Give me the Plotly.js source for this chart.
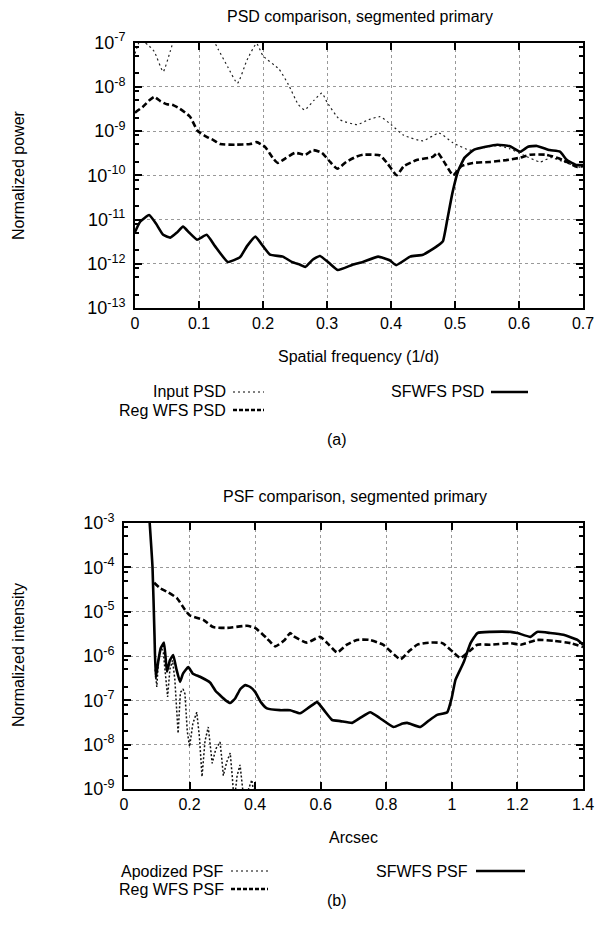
<!DOCTYPE html>
<html>
<head>
<meta charset="utf-8">
<script src="https://cdn.plot.ly/plotly-3.0.1.min.js"></script>
<style>
html,body{margin:0;padding:0;background:#fff;}
#chart{width:595px;height:939px;}
</style>
</head>
<body>
<div id="chart"></div>
<script>
// ---------- Panel (a): PSD comparison ----------
const psdInputX = [0,0.008,0.02,0.03,0.044,0.055,0.065,0.09,0.12,0.13,0.145,0.16,0.175,0.19,0.2,0.225,0.24,0.255,0.265,0.28,0.292,0.3,0.32,0.347,0.365,0.383,0.4,0.42,0.45,0.475,0.497,0.523,0.545,0.566,0.585,0.606,0.633,0.65,0.67,0.69,0.7];
const psdInputY = [5.6e-8,1.1e-7,8.9e-8,6.3e-8,2.2e-8,6.3e-8,1.6e-7,2e-7,1.26e-7,7e-8,2.8e-8,1.2e-8,4e-8,9.5e-8,5e-8,2.5e-8,1.1e-8,4e-9,3e-9,5e-9,7.2e-9,4.5e-9,1.8e-9,1.4e-9,1.8e-9,2.1e-9,1.4e-9,8e-10,6e-10,9e-10,5.4e-10,3.7e-10,4.2e-10,4.7e-10,4e-10,2.9e-10,2e-10,2.5e-10,2e-10,1.6e-10,1.45e-10];

const psdRegX = [0,0.012,0.023,0.03,0.04,0.05,0.058,0.07,0.086,0.098,0.112,0.122,0.133,0.156,0.18,0.19,0.203,0.215,0.223,0.235,0.25,0.266,0.278,0.292,0.305,0.316,0.33,0.345,0.356,0.383,0.395,0.409,0.42,0.44,0.465,0.473,0.485,0.497,0.51,0.528,0.555,0.58,0.602,0.617,0.643,0.669,0.69,0.7];
const psdRegY = [2.6e-9,3.5e-9,5e-9,5.9e-9,4.7e-9,4e-9,3.9e-9,3.2e-9,2.1e-9,1e-9,7.4e-10,6.3e-10,5.1e-10,4.9e-10,5.1e-10,5.6e-10,4.4e-10,2.5e-10,1.9e-10,2.4e-10,3.2e-10,2.9e-10,3.7e-10,3.2e-10,2e-10,1.4e-10,2e-10,2.6e-10,2.9e-10,2.8e-10,1.8e-10,1e-10,1.6e-10,2.2e-10,2.6e-10,3.2e-10,1.8e-10,1e-10,1.6e-10,1.9e-10,2e-10,2.2e-10,2.5e-10,2.9e-10,2.9e-10,2.2e-10,1.55e-10,1.6e-10];

const psdSfX = [0,0.008,0.022,0.033,0.044,0.055,0.065,0.075,0.085,0.097,0.112,0.125,0.145,0.164,0.175,0.188,0.2,0.211,0.231,0.245,0.258,0.266,0.278,0.289,0.303,0.317,0.34,0.356,0.38,0.398,0.408,0.43,0.45,0.472,0.481,0.488,0.496,0.505,0.515,0.53,0.566,0.586,0.602,0.614,0.628,0.648,0.664,0.675,0.69,0.7];
const psdSfY = [5.2e-12,8.9e-12,1.26e-11,8e-12,4.5e-12,3.9e-12,5e-12,6.9e-12,5e-12,3.5e-12,4.5e-12,2.5e-12,1.1e-12,1.4e-12,2.5e-12,4.1e-12,2.5e-12,1.6e-12,1.45e-12,1.1e-12,9.5e-13,8.5e-13,1.25e-12,1.5e-12,1.05e-12,7.2e-13,9.5e-13,1.1e-12,1.45e-12,1.2e-12,9.3e-13,1.45e-12,1.6e-12,2.5e-12,3.2e-12,1e-11,4e-11,1.26e-10,2.5e-10,3.8e-10,4.9e-10,4.5e-10,3.4e-10,4.4e-10,4.6e-10,3.7e-10,3.4e-10,2.2e-10,1.7e-10,1.7e-10];

const psdYTickVals = [1e-13,1e-12,1e-11,1e-10,1e-9,1e-8,1e-7];
const psdYTickText = ["10<sup>-13</sup>","10<sup>-12</sup>","10<sup>-11</sup>","10<sup>-10</sup>","10<sup>-9</sup>","10<sup>-8</sup>","10<sup>-7</sup>"];

// ---------- Panel (b): PSF comparison ----------
const psfApoX = [0.095,0.1,0.106,0.113,0.12,0.127,0.133,0.14,0.148,0.155,0.16,0.165,0.172,0.18,0.186,0.193,0.2,0.21,0.222,0.23,0.238,0.247,0.257,0.264,0.269,0.28,0.293,0.298,0.303,0.313,0.324,0.33,0.336,0.345,0.354,0.362,0.37,0.38,0.39,0.398,0.405];
const psfApoY = [5e-7,2e-7,1e-6,1.6e-6,1.2e-6,3e-7,1.2e-7,5e-7,8e-7,3e-7,7e-8,1.8e-8,1.5e-7,1.8e-7,1.4e-7,2e-8,9e-9,3e-8,5.4e-8,1.5e-8,1.9e-9,1.2e-8,2.5e-8,8e-9,3.8e-9,8e-9,1.15e-8,5e-9,2e-9,4e-9,6.5e-9,2e-9,5e-10,2e-9,3.5e-9,1e-9,4e-10,1e-9,1.6e-9,6e-10,2e-10];

const psfRegX = [0.092,0.11,0.134,0.162,0.186,0.2,0.242,0.272,0.314,0.375,0.4,0.436,0.461,0.49,0.507,0.517,0.558,0.598,0.625,0.65,0.68,0.71,0.75,0.79,0.843,0.87,0.895,0.93,0.971,1.005,1.026,1.057,1.078,1.118,1.179,1.21,1.26,1.31,1.362,1.4];
const psfRegY = [4.5e-5,3.4e-5,2.75e-5,2e-5,1.1e-5,8.3e-6,6.5e-6,4.5e-6,4.3e-6,4.8e-6,4.3e-6,2.5e-6,1.65e-6,2.3e-6,3.3e-6,2.8e-6,2e-6,2.7e-6,1.8e-6,1.2e-6,1.8e-6,2.3e-6,2.3e-6,1.8e-6,8.5e-7,1.3e-6,1.8e-6,2e-6,1.95e-6,1.2e-6,9e-7,1.35e-6,1.8e-6,1.8e-6,1.95e-6,1.8e-6,2.3e-6,2.2e-6,1.95e-6,1.6e-6];

const psfSfX = [0.078,0.087,0.093,0.097,0.105,0.112,0.122,0.131,0.14,0.15,0.16,0.171,0.18,0.196,0.21,0.232,0.263,0.28,0.293,0.31,0.324,0.339,0.355,0.37,0.385,0.4,0.418,0.436,0.476,0.507,0.537,0.565,0.589,0.61,0.635,0.66,0.696,0.72,0.751,0.78,0.822,0.85,0.864,0.904,0.93,0.955,0.986,1.0,1.011,1.036,1.057,1.078,1.118,1.179,1.2,1.24,1.26,1.3,1.34,1.383,1.4];
const psfSfY = [1.1e-3,1e-4,3e-6,3.2e-7,8e-7,1.5e-6,2e-6,4.4e-7,8e-7,1.05e-6,5e-7,2.6e-7,4e-7,5.6e-7,4e-7,3.4e-7,2.5e-7,1.6e-7,1.3e-7,1e-7,8.7e-8,1.1e-7,1.8e-7,2.2e-7,2e-7,1.55e-7,9e-8,6.6e-8,6e-8,6e-8,5.1e-8,7e-8,9.1e-8,6e-8,3.6e-8,3.4e-8,3.1e-8,4e-8,5.4e-8,4e-8,2.5e-8,3e-8,3.1e-8,2.5e-8,3.5e-8,4.7e-8,5.4e-8,1.17e-7,2.9e-7,7.2e-7,1.95e-6,3.3e-6,3.5e-6,3.5e-6,3.3e-6,2.7e-6,3.5e-6,3.3e-6,3e-6,2.3e-6,1.8e-6];

const psfYTickVals = [1e-9,1e-8,1e-7,1e-6,1e-5,1e-4,1e-3];
const psfYTickText = ["10<sup>-9</sup>","10<sup>-8</sup>","10<sup>-7</sup>","10<sup>-6</sup>","10<sup>-5</sup>","10<sup>-4</sup>","10<sup>-3</sup>"];

// text
const titleA = "PSD comparison, segmented primary";
const titleB = "PSF comparison, segmented primary";
const xTitleA = "Spatial frequency (1/d)";
const yTitleA = "Normalized power";
const xTitleB = "Arcsec";
const yTitleB = "Normalized intensity";
const legendA = ["Input PSD", "Reg WFS PSD", "SFWFS PSD"];
const legendB = ["Apodized PSF", "Reg WFS PSF", "SFWFS PSF"];

const FONT = "Liberation Sans, Arial, Helvetica, sans-serif";
const W = 595, H = 939;
const px = x => x / W;
const py = y => 1 - y / H;

function minorVals(lo, hi) {
  const v = [];
  for (let e = lo; e < hi; e++) { [2,5,8].forEach(m => v.push(m * Math.pow(10, e))); }
  return v;
}

const dotted = {color:'#222', width:1.2, dash:'2px,3px', shape:'spline', smoothing:0.5};
const dashed = {color:'#000', width:2.6, dash:'6px,3px', shape:'spline', smoothing:0.5};
const solid  = {color:'#000', width:2.6, shape:'spline', smoothing:0.4};

const traces = [
  {x: psdInputX, y: psdInputY, xaxis:'x', yaxis:'y', mode:'lines', line: dotted, name: legendA[0]},
  {x: psdRegX,   y: psdRegY,   xaxis:'x', yaxis:'y', mode:'lines', line: dashed, name: legendA[1]},
  {x: psdSfX,    y: psdSfY,    xaxis:'x', yaxis:'y', mode:'lines', line: solid,  name: legendA[2]},
  {x: psfApoX,   y: psfApoY,   xaxis:'x2', yaxis:'y2', mode:'lines', line: {color:'#111', width:1.5, dash:'2px,2px'}, name: legendB[0]},
  {x: psfRegX,   y: psfRegY,   xaxis:'x2', yaxis:'y2', mode:'lines', line: dashed, name: legendB[1]},
  {x: psfSfX,    y: psfSfY,    xaxis:'x2', yaxis:'y2', mode:'lines', line: solid,  name: legendB[2]}
];

const xcommon = {
  showline:true, linewidth:2, linecolor:'#000', mirror:'allticks',
  ticks:'inside', ticklen:7, tickwidth:2, tickcolor:'#000',
  showgrid:true, gridcolor:'#999', griddash:'dot', gridwidth:1,
  zeroline:false, tickfont:{family:FONT, size:16, color:'#000'},
  automargin:false, fixedrange:true
};

function yaxisFor(domain, range, vals, text, lo, hi, anchor) {
  return Object.assign({}, xcommon, {
    type:'log', domain: domain, range: range, anchor: anchor,
    tickmode:'array', tickvals: vals, ticktext: text,
    tickfont:{family:FONT, size:18, color:'#000'}, ticklabelstandoff:4,
    minor:{ticks:'inside', ticklen:4, tickwidth:2, tickcolor:'#000', tickmode:'array', tickvals:minorVals(lo, hi), showgrid:false}
  });
}

const layout = {
  width: W, height: H,
  margin: {l:0, r:0, t:0, b:0},
  paper_bgcolor:'#fff', plot_bgcolor:'#fff',
  showlegend:false,
  font:{family:FONT, color:'#000'},
  xaxis: Object.assign({}, xcommon, {domain:[px(135), px(583)], anchor:'y', range:[0,0.7], dtick:0.1, tick0:0}),
  yaxis: yaxisFor([py(308), py(42.5)], [-13,-7], psdYTickVals, psdYTickText, -13, -7, 'x'),
  xaxis2: Object.assign({}, xcommon, {domain:[px(124), px(583)], anchor:'y2', range:[0,1.4], dtick:0.2, tick0:0}),
  yaxis2: yaxisFor([py(789), py(523)], [-9,-3], psfYTickVals, psfYTickText, -9, -3, 'x2'),
  annotations: [],
  shapes: []
};

function ann(text, x, y, opts) {
  layout.annotations.push(Object.assign({
    text: text, xref:'paper', yref:'paper', x: px(x), y: py(y),
    showarrow:false, font:{family:FONT, size:16, color:'#000'},
    xanchor:'center', yanchor:'middle'
  }, opts || {}));
}
function legLine(x0, x1, y, line) {
  layout.shapes.push({type:'line', xref:'paper', yref:'paper', x0:px(x0), x1:px(x1), y0:py(y), y1:py(y), line: line});
}

// Panel (a) texts
ann(titleA, 360, 16);
ann(xTitleA, 358, 356);
ann(yTitleA, 18, 175, {textangle:-90});
ann(legendA[0], 228, 392, {xanchor:'right'});
ann(legendA[1], 228, 410, {xanchor:'right'});
ann(legendA[2], 486, 392, {xanchor:'right'});
legLine(233, 264, 392, {color:'#000', width:1, dash:'2px,3px'});
legLine(233, 264, 410, {color:'#000', width:2.5, dash:'4px,2px'});
legLine(491, 528, 392, {color:'#000', width:2.5});
ann("(a)", 337, 440);

// Panel (b) texts
ann(titleB, 355, 497);
ann(xTitleB, 353, 837);
ann(yTitleB, 18, 655, {textangle:-90});
ann(legendB[0], 226, 871, {xanchor:'right'});
ann(legendB[1], 226, 889, {xanchor:'right'});
ann(legendB[2], 470, 871, {xanchor:'right'});
legLine(231, 268, 871, {color:'#000', width:1, dash:'2px,3px'});
legLine(231, 268, 889, {color:'#000', width:2.5, dash:'4px,2px'});
legLine(476, 525, 871, {color:'#000', width:2.5});
ann("(b)", 337, 900);

Plotly.newPlot('chart', traces, layout, {displayModeBar:false, staticPlot:true});
</script>
</body>
</html>
